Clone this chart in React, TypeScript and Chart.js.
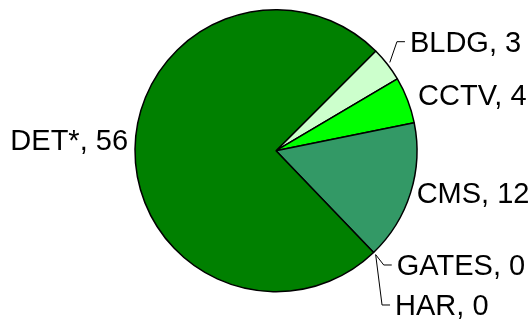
import React, { useEffect, useRef } from "react";
import { Chart, registerables } from "chart.js";

Chart.register(...registerables);

const categories = ["BLDG", "CCTV", "CMS", "GATES", "HAR", "DET*"];
const values = [3, 4, 12, 0, 0, 56];
const colors = ["#CCFFCC", "#00FF00", "#339966", "#008000", "#008000", "#008000"];

// label placement tweaks relative to the default outside anchor (dx, baseline dy, leader line)
const labelDx = [17.8, 4.8, 0.4, 19, 17.3, -1];
const labelDy = [-8.9, 7, 8.6, 18.2, 58.2, 1.1];
const labelLeader = [true, false, false, true, true, false];

const FONT = '29px "Liberation Sans", Arial, sans-serif';

const labelPlugin = {
  id: "outsideLabels",
  afterDatasetsDraw(chart: any) {
    const ctx = chart.ctx;
    const meta = chart.getDatasetMeta(0);
    ctx.save();
    ctx.font = FONT;
    ctx.fillStyle = "#000";
    ctx.strokeStyle = "#000";
    ctx.lineWidth = 1;
    ctx.textBaseline = "alphabetic";
    meta.data.forEach((arc: any, i: number) => {
      const p = arc.getProps(["x", "y", "startAngle", "endAngle", "outerRadius"], true);
      const mid = (p.startAngle + p.endAngle) / 2;
      const ax = p.x + (p.outerRadius + 6) * Math.cos(mid);
      const ay = p.y + (p.outerRadius + 6) * Math.sin(mid);
      const right = Math.cos(mid) >= 0;
      const tx = ax + labelDx[i];
      const ty = ay + labelDy[i];
      const text = `${categories[i]}, ${values[i]}`;
      ctx.textAlign = right ? "left" : "right";
      ctx.fillText(text, tx, ty);
      if (labelLeader[i]) {
        const sx = p.x + (p.outerRadius + 3) * Math.cos(mid);
        const sy = p.y + (p.outerRadius + 3) * Math.sin(mid);
        const ly = ty - 10;
        ctx.beginPath();
        ctx.moveTo(sx, sy);
        ctx.lineTo(tx - 13, ly);
        ctx.lineTo(tx - 5, ly);
        ctx.stroke();
      }
    });
    ctx.restore();
  },
};

export default function App() {
  const ref = useRef<HTMLCanvasElement | null>(null);
  useEffect(() => {
    if (!ref.current) return;
    const chart = new Chart(ref.current, {
      type: "pie",
      data: {
        labels: categories,
        datasets: [
          {
            data: values,
            backgroundColor: colors,
            borderColor: "#000",
            borderWidth: 1.5,
            hoverOffset: 0,
          },
        ],
      },
      options: {
        responsive: false,
        animation: false,
        devicePixelRatio: 1,
        rotation: 45,
        radius: 141,
        layout: { padding: { left: 21, right: 0, top: 0, bottom: 18.6 } },
        plugins: {
          legend: { display: false },
          tooltip: { enabled: false },
        },
        events: [],
      } as any,
      plugins: [labelPlugin],
    });
    return () => chart.destroy();
  }, []);
  return (
    <div style={{ position: "absolute", left: 0, top: 0, width: 531, height: 320, background: "#fff" }}>
      <canvas ref={ref} width={531} height={320} />
    </div>
  );
}
